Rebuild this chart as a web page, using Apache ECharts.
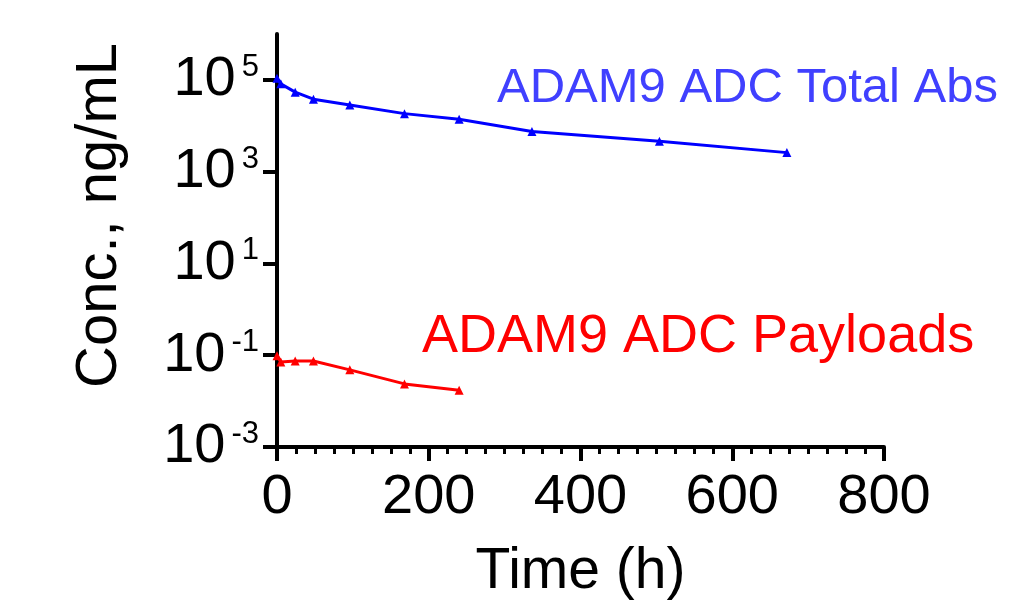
<!DOCTYPE html>
<html>
<head>
<meta charset="utf-8">
<script src="https://cdn.jsdelivr.net/npm/echarts@6/dist/echarts.min.js"></script>
<style>
  html, body { margin: 0; padding: 0; background: #fff; }
  .charts { width: 1018px; height: 600px; }
</style>
</head>
<body>
<div class="charts" id="myEchart"></div>
<script>
// 数据
var timeTotal = [0, 5, 24, 48, 96, 168, 240, 336, 504, 672];
var totalAbs = [109000, 82000, 54000, 38000, 28500, 18400, 13900, 7500, 4600, 2600];
var timePayload = [0, 5, 24, 48, 96, 168, 240];
var payloads = [0.097, 0.0715, 0.075, 0.075, 0.048, 0.0237, 0.0173];
var xTicks = [0, 200, 400, 600, 800];
var yExponents = ["-3", "-2", "-1", "0", "1", "2", "3", "4", "5", "6"];
var yShownExponents = ["-3", "-1", "1", "3", "5"];

var font = "Liberation Sans, Arial, Helvetica, sans-serif";

function pairs(xs, ys) {
  return xs.map(function (x, i) {
    return [x, ys[i]];
  });
}

var chart = echarts.init(document.getElementById("myEchart"), null, { renderer: "canvas" });

chart.setOption({
  animation: false,
  backgroundColor: "#fff",
  grid: {
    left: 277,
    right: 134,
    top: 34,
    bottom: 153,
    containLabel: false,
    outerBoundsMode: "none"
  },
  xAxis: {
    type: "value",
    min: xTicks[0],
    max: xTicks[xTicks.length - 1],
    interval: 200,
    name: "Time (h)",
    nameLocation: "middle",
    nameGap: 97,
    nameTextStyle: { color: "#000", fontSize: 57, fontFamily: font },
    axisLine: { show: true, onZero: false, lineStyle: { color: "#000", width: 4 } },
    axisTick: { show: true, length: 14, lineStyle: { color: "#000", width: 4 } },
    minorTick: { show: true, splitNumber: 8, length: 7, lineStyle: { color: "#000", width: 3 } },
    axisLabel: { show: true, margin: 23, color: "#000", fontSize: 56, fontFamily: font },
    splitLine: { show: false },
    minorSplitLine: { show: false }
  },
  yAxis: [
    {
      // 对数轴 画数据
      type: "log",
      logBase: 10,
      min: 0.001,
      max: 1000000,
      name: "Conc., ng/mL",
      nameLocation: "middle",
      nameGap: 148,
      nameTextStyle: { color: "#000", fontSize: 58, fontFamily: font, padding: [0, 0, 0, 50] },
      axisLine: { show: true, lineStyle: { color: "#000", width: 4 } },
      axisTick: { show: false },
      axisLabel: { show: false },
      splitLine: { show: false }
    },
    {
      // 刻度 10^-3 ... 10^5 每两个数量级
      type: "category",
      data: yExponents,
      boundaryGap: false,
      position: "left",
      axisLine: { show: false },
      axisTick: {
        show: true,
        length: 14,
        interval: function (i, v) {
          return yShownExponents.indexOf(v) > -1;
        },
        lineStyle: { color: "#000", width: 4 }
      },
      axisLabel: {
        show: true,
        margin: 18,
        interval: function (i, v) {
          return yShownExponents.indexOf(v) > -1;
        },
        formatter: function (v) {
          return "{b|10}{s|" + v + "}";
        },
        rich: {
          b: { color: "#000", fontSize: 56, fontFamily: font, lineHeight: 56 },
          s: { color: "#000", fontSize: 31, fontFamily: font, verticalAlign: "top", lineHeight: 40, padding: [0, 0, 0, 6] }
        }
      },
      splitLine: { show: false }
    }
  ],
  graphic: [
    {
      type: "text",
      left: 497,
      top: 88 - 24,
      style: { text: "ADAM9 ADC Total Abs", fill: "#4040ff", fontSize: 49, fontFamily: font }
    },
    {
      type: "text",
      left: 422,
      top: 336 - 26,
      style: { text: "ADAM9 ADC Payloads", fill: "#ff0000", fontSize: 54, fontFamily: font }
    }
  ],
  series: [
    {
      name: "ADAM9 ADC Total Abs",
      type: "line",
      yAxisIndex: 0,
      smooth: false,
      symbol: "triangle",
      symbolSize: 9,
      lineStyle: { color: "#0000ff", width: 3 },
      itemStyle: { color: "#0000ff" },
      data: pairs(timeTotal, totalAbs)
    },
    {
      name: "ADAM9 ADC Payloads",
      type: "line",
      yAxisIndex: 0,
      smooth: false,
      symbol: "triangle",
      symbolSize: 9,
      lineStyle: { color: "#ff0000", width: 3 },
      itemStyle: { color: "#ff0000" },
      data: pairs(timePayload, payloads)
    }
  ]
});
</script>
</body>
</html>
